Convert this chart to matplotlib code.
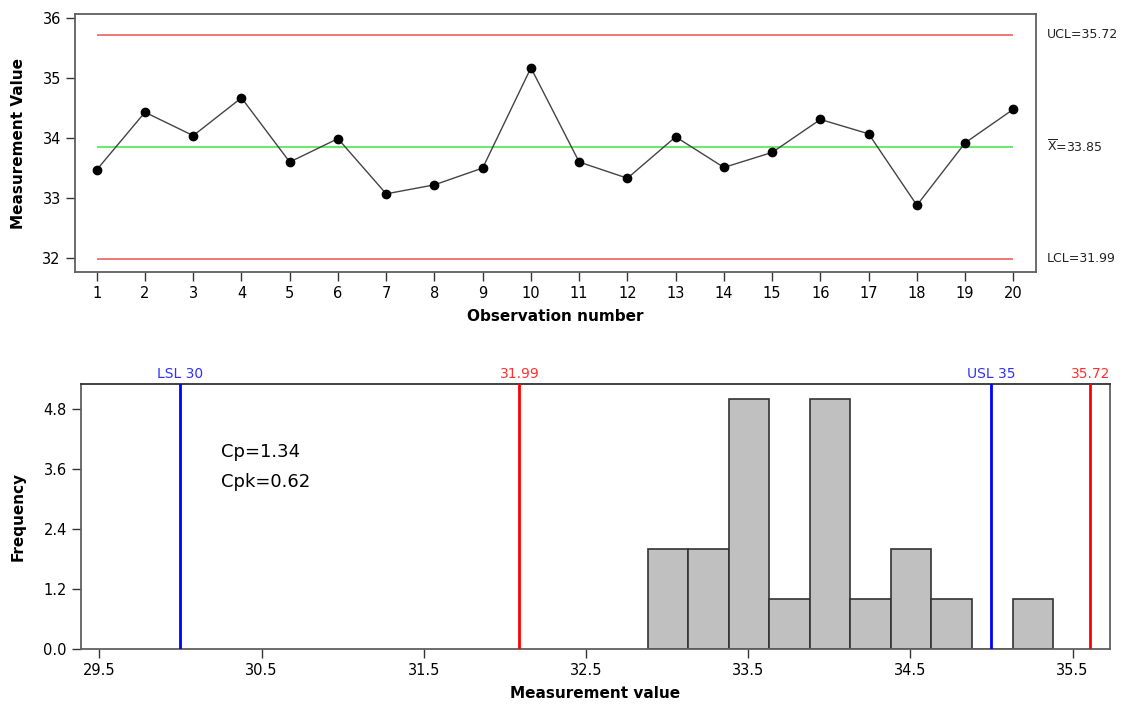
import numpy as np
from matplotlib import pyplot as plt
from matplotlib import transforms

plt.rcParams['font.family'] = ['DejaVu Sans']
plt.rcParams['mathtext.fontset'] = 'dejavusans'

obs = list(range(1, 21))
values = [33.47, 34.43, 34.04, 34.67, 33.60, 33.99, 33.07, 33.22, 33.50, 35.17,
          33.60, 33.33, 34.02, 33.51, 33.76, 34.31, 34.07, 32.88, 33.92, 34.48]

ucl = 35.72
mean = 33.85
lcl = 31.99
lsl = 30
usl = 35
# where the reference draws the control limits on the histogram
lcl_hist_x = 32.09
ucl_hist_x = 35.61

bin_start = 32.88
bin_width = 0.25
n_bins = 10

cp = 1.34
cpk = 0.62

yticks_top = [32, 33, 34, 35, 36]
xticks_bot = [29.5, 30.5, 31.5, 32.5, 33.5, 34.5, 35.5]
yticks_bot = [0.0, 1.2, 2.4, 3.6, 4.8]

spine_col = '#606060'

fig = plt.figure(figsize=(11.22, 7.04), dpi=100)

# ---- control chart ----
ax1 = fig.add_axes([0.0666, 0.6136, 0.8568, 0.3665])
ax1.hlines([ucl, lcl], 1, 20, color='#f26a6a', lw=1.3)
ax1.hlines(mean, 1, 20, color='#6ee86e', lw=1.5)
ax1.plot(obs, values, '-', color='#444444', lw=1, zorder=3)
ax1.plot(obs, values, 'o', color='black', ms=6, zorder=4)
ax1.set_xlim(0.544, 20.47)
ax1.set_ylim(31.767, 36.067)
ax1.set_xticks(obs)
ax1.set_yticks(yticks_top)
ax1.set_xlabel('Observation number', fontsize=11, fontweight='bold')
ax1.set_ylabel('Measurement Value', fontsize=11, fontweight='bold')
ax1.xaxis.set_label_coords(0.5, -0.145)
ax1.yaxis.set_label_coords(-0.0505, 0.5)

tr = transforms.blended_transform_factory(ax1.transAxes, ax1.transData)
ax1.text(1.0114, ucl, 'UCL=%.2f' % ucl, transform=tr, va='center', fontsize=9, color='#222222')
ax1.text(1.0114, mean, r'$\overline{\mathrm{X}}$=%.2f' % mean, transform=tr, va='center',
         fontsize=9, color='#222222')
ax1.text(1.0114, lcl, 'LCL=%.2f' % lcl, transform=tr, va='center', fontsize=9, color='#222222')

# ---- histogram ----
ax2 = fig.add_axes([0.0719, 0.0777, 0.9174, 0.3768])
edges = bin_start + bin_width * np.arange(n_bins + 1)
ax2.hist(values, bins=edges, color='#c0c0c0', edgecolor='#333333', lw=1.2, zorder=2)
ax2.axvline(lsl, color='#0000ff', lw=2, zorder=3)
ax2.axvline(usl, color='#0000ff', lw=2, zorder=3)
ax2.axvline(lcl_hist_x, color='#ff0000', lw=2, zorder=3)
ax2.axvline(ucl_hist_x, color='#ff0000', lw=2, zorder=3)

trx = ax2.get_xaxis_transform()
ax2.text(lsl, 1.0226, 'LSL %g' % lsl, transform=trx, ha='center', va='baseline', fontsize=10, color='#3030ff')
ax2.text(usl, 1.0226, 'USL %g' % usl, transform=trx, ha='center', va='baseline', fontsize=10, color='#3030ff')
ax2.text(lcl_hist_x, 1.0226, '%.2f' % lcl, transform=trx, ha='center', va='baseline', fontsize=10, color='#ff3030')
ax2.text(ucl_hist_x, 1.0226, '%.2f' % ucl, transform=trx, ha='center', va='baseline', fontsize=10, color='#ff3030')

ax2.text(30.253, 3.85, 'Cp=%.2f' % cp, fontsize=13)
ax2.text(30.253, 3.25, 'Cpk=%.2f' % cpk, fontsize=13)

ax2.set_xlim(29.385, 35.731)
ax2.set_ylim(0, 5.306)
ax2.set_xticks(xticks_bot)
ax2.set_yticks(yticks_bot)
ax2.set_yticklabels(['%.1f' % t for t in yticks_bot])
ax2.set_xlabel('Measurement value', fontsize=11, fontweight='bold')
ax2.set_ylabel('Frequency', fontsize=11, fontweight='bold')
ax2.xaxis.set_label_coords(0.5, -0.138)
ax2.yaxis.set_label_coords(-0.053, 0.5)

for ax in (ax1, ax2):
    for sp in ax.spines.values():
        sp.set_color(spine_col)
        sp.set_linewidth(1.3)
    ax.tick_params(length=6.5, width=1, color='#333333', labelsize=10.5, pad=3.5)

ax2.spines['top'].set_color('#333333')

fig.savefig('out.png', dpi=100)
